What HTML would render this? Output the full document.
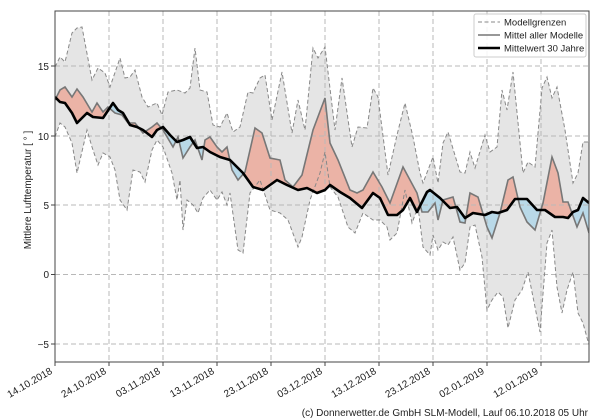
<!DOCTYPE html>
<html><head><meta charset="utf-8"><style>
html,body{margin:0;padding:0;background:#fff}
svg{display:block;font-family:"Liberation Sans","DejaVu Sans",sans-serif}
</style></head><body>
<svg id="s" width="600" height="420" viewBox="0 0 600 420" xmlns="http://www.w3.org/2000/svg">
<defs>
<clipPath id="plot"><rect x="55" y="11" width="534" height="351"/></clipPath>
<clipPath id="above"><polygon id="cA"/></clipPath>
<clipPath id="below"><polygon id="cB"/></clipPath>
</defs>
<rect x="0" y="0" width="600" height="420" fill="#fff"/>
<g clip-path="url(#plot)">
<polygon id="band" fill="#e5e5e5" stroke="none"/>
<polygon id="red" fill="#ebb3a6" clip-path="url(#above)"/>
<polygon id="blue" fill="#b9d9e8" clip-path="url(#below)"/>
<g stroke="#b8b8b8" stroke-width="1" stroke-dasharray="5,3" fill="none">
<line x1="109" y1="11" x2="109" y2="362"/><line x1="163" y1="11" x2="163" y2="362"/>
<line x1="217" y1="11" x2="217" y2="362"/><line x1="271" y1="11" x2="271" y2="362"/>
<line x1="325" y1="11" x2="325" y2="362"/><line x1="379" y1="11" x2="379" y2="362"/>
<line x1="433" y1="11" x2="433" y2="362"/><line x1="487" y1="11" x2="487" y2="362"/>
<line x1="541" y1="11" x2="541" y2="362"/>
<line x1="55" y1="66" x2="589" y2="66"/><line x1="55" y1="136" x2="589" y2="136"/>
<line x1="55" y1="205" x2="589" y2="205"/><line x1="55" y1="274.5" x2="589" y2="274.5"/>
<line x1="55" y1="344" x2="589" y2="344"/>
</g>
<polyline id="up" fill="none" stroke="#888" stroke-width="1" stroke-dasharray="4,2.5"/>
<polyline id="lo" fill="none" stroke="#888" stroke-width="1" stroke-dasharray="4,2.5"/>
<polyline id="mean" fill="none" stroke="#777" stroke-width="1.6"/>
<polyline id="clim" fill="none" stroke="#000" stroke-width="2.6" stroke-linejoin="round"/>
</g>
<rect x="55" y="11" width="534" height="351" fill="none" stroke="#444" stroke-width="1"/>
<g stroke="#444" stroke-width="1">
<line x1="55" y1="362" x2="55" y2="366"/><line x1="109" y1="362" x2="109" y2="366"/>
<line x1="163" y1="362" x2="163" y2="366"/><line x1="217" y1="362" x2="217" y2="366"/>
<line x1="271" y1="362" x2="271" y2="366"/><line x1="325" y1="362" x2="325" y2="366"/>
<line x1="379" y1="362" x2="379" y2="366"/><line x1="433" y1="362" x2="433" y2="366"/>
<line x1="487" y1="362" x2="487" y2="366"/><line x1="541" y1="362" x2="541" y2="366"/>
<line x1="51" y1="66" x2="55" y2="66"/><line x1="51" y1="136" x2="55" y2="136"/>
<line x1="51" y1="205" x2="55" y2="205"/><line x1="51" y1="274.5" x2="55" y2="274.5"/>
<line x1="51" y1="344" x2="55" y2="344"/>
</g>
<g font-size="10" fill="#222" text-anchor="end">
<text x="49" y="70">15</text><text x="49" y="140">10</text><text x="49" y="209">5</text>
<text x="49" y="278">0</text><text x="49" y="348">−5</text>
</g>
<text transform="translate(31,190) rotate(-90)" font-size="10" fill="#222" text-anchor="middle">Mittlere Lufttemperatur [ ° ]</text>
<g font-size="10" fill="#222" text-anchor="end">
<text transform="translate(53,373) rotate(-30)">14.10.2018</text>
<text transform="translate(107,373) rotate(-30)">24.10.2018</text>
<text transform="translate(161,373) rotate(-30)">03.11.2018</text>
<text transform="translate(215,373) rotate(-30)">13.11.2018</text>
<text transform="translate(269,373) rotate(-30)">23.11.2018</text>
<text transform="translate(323,373) rotate(-30)">03.12.2018</text>
<text transform="translate(377,373) rotate(-30)">13.12.2018</text>
<text transform="translate(431,373) rotate(-30)">23.12.2018</text>
<text transform="translate(485,373) rotate(-30)">02.01.2019</text>
<text transform="translate(539,373) rotate(-30)">12.01.2019</text>
</g>
<text x="588" y="416" font-size="10" fill="#222" text-anchor="end">(c) Donnerwetter.de GmbH SLM-Modell, Lauf 06.10.2018 05 Uhr</text>
<rect x="474" y="14" width="112" height="43" rx="2" fill="#fff" fill-opacity="0.85" stroke="#ccc"/>
<line x1="478" y1="22" x2="500" y2="22" stroke="#888" stroke-dasharray="4,2.5"/>
<line x1="478" y1="35" x2="500" y2="35" stroke="#777" stroke-width="1.6"/>
<line x1="478" y1="48" x2="500" y2="48" stroke="#000" stroke-width="2.6"/>
<g font-size="9.5" fill="#222">
<text x="504" y="25.5">Modellgrenzen</text>
<text x="504" y="38.5">Mittel aller Modelle</text>
<text x="504" y="51.5">Mittelwert 30 Jahre</text>
</g>
</svg>
<script>
var up=[[55,67],[60,57],[65,62],[72,33],[77,28],[82,27],[92,80],[98,68],[105,73],[110,87],[120,58],[125,78],[130,77],[135,70],[142,97],[148,107],[157,103],[162,115],[168,92],[177,90],[185,93],[190,88],[195,48],[200,90],[207,92],[213,125],[220,127],[227,113],[233,132],[240,127],[248,92],[253,93],[260,78],[265,75],[272,120],[282,72],[292,133],[298,100],[305,130],[313,48],[318,58],[325,47],[335,130],[342,78],[352,147],[358,127],[367,128],[373,88],[378,97],[388,175],[397,135],[405,103],[413,137],[420,173],[423,183],[433,157],[438,183],[443,143],[448,132],[460,172],[465,173],[470,152],[475,168],[485,135],[490,152],[497,147],[502,90],[507,110],[513,72],[523,173],[528,162],[535,167],[542,88],[547,77],[552,98],[557,87],[565,130],[573,183],[578,173],[583,142],[589,142]];
var lo=[[55,137],[60,123],[65,127],[72,143],[77,173],[87,130],[92,147],[98,165],[103,153],[110,157],[115,170],[120,200],[127,210],[133,170],[140,172],[145,182],[152,150],[157,140],[163,147],[172,173],[177,200],[180,180],[183,230],[187,200],[193,205],[198,213],[203,198],[210,190],[217,200],[222,192],[227,205],[230,193],[238,250],[243,253],[250,193],[260,180],[270,210],[280,213],[288,220],[298,247],[302,237],[310,200],[320,173],[325,152],[330,187],[338,197],[348,227],[355,233],[363,213],[373,220],[380,220],[387,227],[390,240],[397,233],[405,190],[412,223],[418,207],[423,247],[430,255],[433,235],[438,250],[443,242],[448,245],[453,237],[460,270],[465,263],[470,227],[475,225],[482,257],[487,310],[492,300],[498,292],[503,297],[508,328],[515,300],[522,290],[528,272],[533,297],[540,332],[547,243],[552,230],[557,287],[562,313],[567,290],[573,272],[578,313],[583,323],[589,345]];
var mean=[[55,100],[60,90],[65,87],[72,97],[77,89],[83,97],[92,112],[97,103],[103,112],[108,107],[115,113],[122,115],[128,123],[135,123],[143,133],[152,127],[157,123],[163,130],[173,147],[178,137],[183,158],[190,147],[195,140],[202,160],[205,140],[210,137],[217,147],[222,152],[227,147],[232,170],[238,180],[245,172],[255,128],[262,133],[270,158],[280,160],[285,180],[293,187],[302,175],[313,130],[325,98],[330,143],[338,160],[350,190],[357,193],[363,190],[373,172],[382,187],[390,203],[403,167],[417,193],[422,212],[428,212],[435,203],[438,220],[443,200],[453,197],[460,222],[465,223],[470,193],[478,197],[487,227],[492,238],[500,213],[508,180],[513,177],[520,207],[527,222],[535,230],[543,203],[552,157],[558,173],[563,202],[568,202],[577,227],[583,213],[589,233]];
var clim=[[55,97],[60,102],[65,103],[72,113],[77,123],[87,113],[93,117],[103,118],[113,103],[118,110],[123,113],[130,125],[137,127],[143,130],[152,137],[157,130],[163,127],[170,135],[177,142],[183,140],[190,137],[197,148],[203,147],[210,152],[220,157],[230,160],[243,173],[253,187],[263,190],[277,180],[287,185],[298,190],[307,188],[317,193],[325,190],[330,185],[340,192],[350,198],[362,208],[373,193],[380,198],[388,215],[397,215],[403,210],[410,198],[417,212],[427,192],[430,190],[440,198],[450,208],[457,207],[465,218],[473,213],[485,215],[492,212],[498,213],[507,210],[515,199],[527,199],[537,210],[545,210],[555,217],[563,217],[568,218],[573,212],[578,210],[583,198],[589,203]];
function p(a){return a.map(function(q){return q[0]+","+q[1]}).join(" ")}
function rev(a){return a.slice().reverse()}
function $(i){return document.getElementById(i)}
$("band").setAttribute("points",p(up.concat(rev(lo))));
var mc=p(mean.concat(rev(clim)));
$("red").setAttribute("points",mc);
$("blue").setAttribute("points",mc);
$("cA").setAttribute("points",p(clim.concat([[589,0],[55,0]])));
$("cB").setAttribute("points",p(clim.concat([[589,420],[55,420]])));
$("up").setAttribute("points",p(up));
$("lo").setAttribute("points",p(lo));
$("mean").setAttribute("points",p(mean));
$("clim").setAttribute("points",p(clim));
</script>
</body></html>
